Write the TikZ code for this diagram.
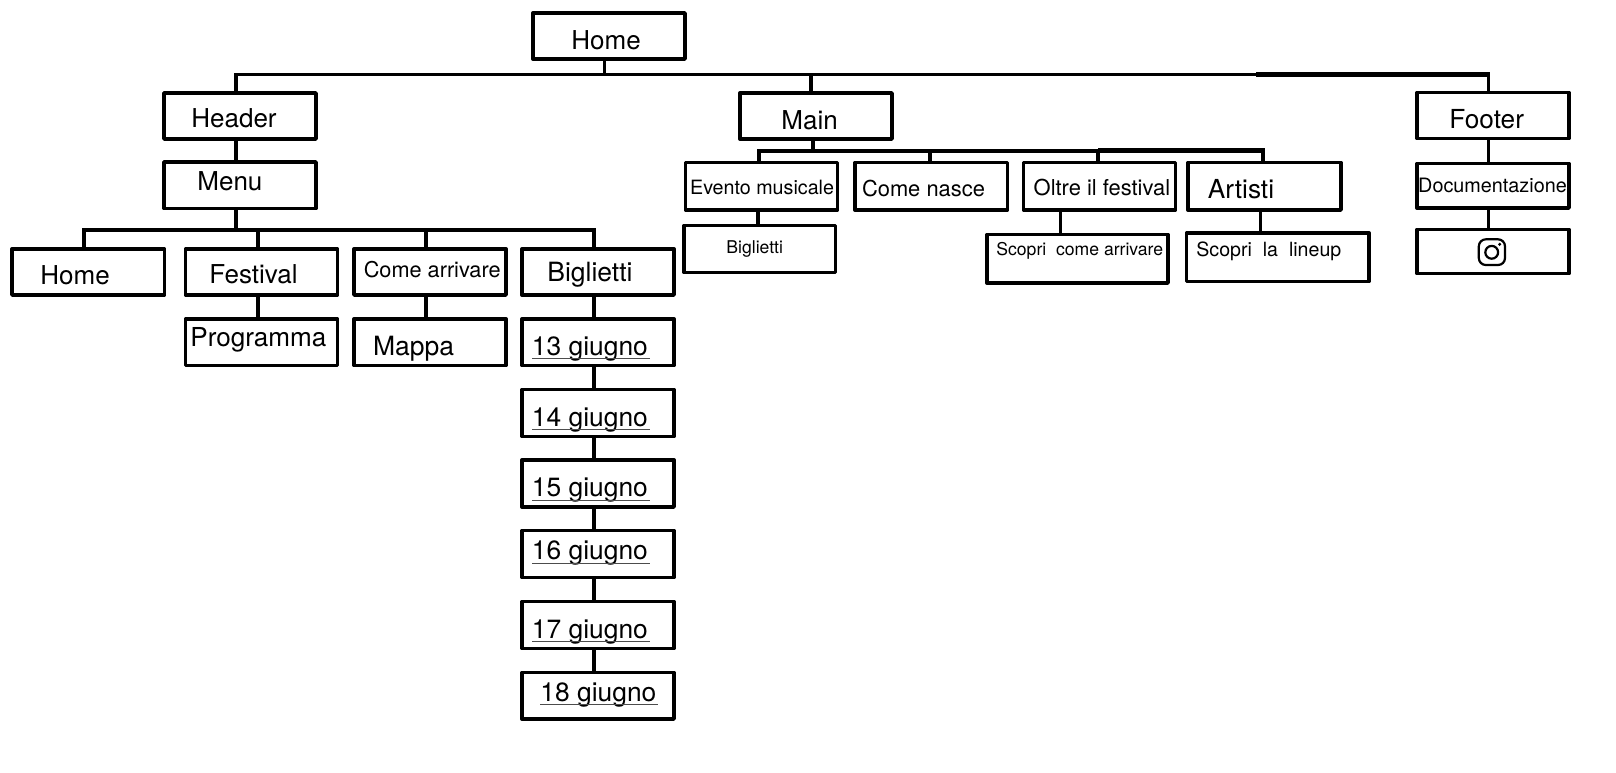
\documentclass[tikz,border=0pt]{standalone}
\usepackage{fontspec}
\setmainfont{TeX Gyre Heros}
\tikzset{
  x=1pt,y=-1pt,
  boxnode/.style={draw=black,line width=3.4pt,rectangle,inner sep=0pt,outer sep=0pt,line join=round},
  lbl/.style={anchor=base west,inner sep=0pt,outer sep=0pt,text=black,xshift=-0.6pt,yshift=-0.8pt},
  conn/.style={draw=black,line width=3.8pt,line cap=butt},
  thickconn/.style={draw=black,line width=4.6pt},
  uline/.style={draw=black!70,line width=0.9pt},
  icon/.style={draw=black,line width=2.2pt}
}
% name, x1,y1,x2,y2, font size, text x, baseline y, text
\newcommand{\bx}[9]{%
  \node[boxnode,minimum width={#4-#2-2pt},minimum height={#5-#3-2pt}] (#1) at ({(#2+#4)/2},{(#3+#5)/2}) {};
  \node[lbl,font=\fontsize{#6}{#6}\selectfont] (#1-t) at (#7,#8) {#9};
}
\begin{document}
\begin{tikzpicture}
\useasboundingbox (0,0) rectangle (1616,772);
% top level
\bx{home}{532}{12}{686}{60}{26}{572}{48.7}{Home}
\bx{hdr}{163}{92}{317}{140}{26}{192}{126.7}{Header}
\bx{main}{739}{92}{893}{140}{26}{782}{129}{Main}
\bx{ftr}{1416}{91.5}{1570}{139.5}{26.2}{1450}{127.3}{Footer}
% header subtree
\bx{menu}{163}{161}{317}{209.5}{26}{198}{190}{Menu}
\bx{mhome}{11}{248}{165.5}{296}{26}{41}{283.7}{Home}
\bx{fest}{184.5}{248}{338.5}{296}{26}{210}{282.7}{Festival}
\bx{come}{353}{248}{507}{296}{21.7}{364.4}{276.7}{Come arrivare}
\bx{bigl}{521}{248}{675}{296}{26.5}{548}{280.7}{Biglietti}
\bx{prog}{184.5}{318}{338.5}{366.5}{26.1}{191}{345.7}{Programma}
\bx{mappa}{353}{318}{507}{366.5}{26.5}{373.7}{355}{Mappa}
\bx{d13}{521}{318}{675}{366.5}{26.4}{532.5}{355}{13 giugno}
\bx{d14}{521}{388.5}{675}{437.5}{26.4}{532.5}{425.3}{14 giugno}
\bx{d15}{521}{459}{675}{508}{26.4}{532.5}{495.3}{15 giugno}
\bx{d16}{521}{529.5}{675}{578.5}{26.4}{532.5}{558.3}{16 giugno}
\bx{d17}{521}{600.5}{675}{649.5}{26.4}{532.5}{637.7}{17 giugno}
\bx{d18}{521}{671.5}{675}{720}{26.4}{541}{700.3}{18 giugno}
% main subtree
\bx{evento}{684.5}{161.5}{838.5}{211}{19.7}{690.7}{194}{Evento musicale}
\bx{nasce}{854}{161.5}{1008.5}{211}{21.9}{862.6}{195.7}{Come nasce}
\bx{oltre}{1022.5}{161.5}{1176.5}{211}{21.9}{1034.3}{194.7}{Oltre il festival}
\bx{artisti}{1187}{161.5}{1342}{211}{26.2}{1208.5}{198}{Artisti}
\bx{mbigl}{683}{224.5}{836.5}{273.5}{17.6}{727}{252.5}{Biglietti}
\bx{scoprc}{986}{233.5}{1169}{284}{17.6}{997}{254.5}{Scopri\ \ come arrivare}
\bx{scoprl}{1185.5}{232}{1370}{282.5}{19.6}{1197}{256}{Scopri\ \ la\ \ lineup}
% footer subtree
\bx{docu}{1416}{162.5}{1570}{209}{19.8}{1418.8}{191.7}{Documentazione}
\node[boxnode,minimum width={154-2pt},minimum height={46.5-2pt}] (insta) at (1493,251.5) {};
% instagram icon
\draw[icon,rounded corners=7pt] (1478.8,239.3) rectangle (1505,265);
\draw[icon] (1491.7,252.3) circle[radius=6.4pt];
\fill (1499.7,244.3) circle[radius=1.7pt];
% buses
\coordinate (busL) at (236,74.5);
\coordinate (busH) at (604.5,74.5);
\coordinate (busM) at (811,74.5);
\coordinate (busF) at (1488.5,74.5);
\draw[conn] (busL |- hdr.north) -- (busL) -- (busF) -- (busF |- ftr.north);
\draw[thickconn] (1256,74.2) -- (1490.2,74.2);
\draw[conn] (busH |- home.south) -- (busH);
\draw[conn] (busM) -- (busM |- main.north);
% header
\draw[conn] (busL |- hdr.south) -- (busL |- menu.north);
\coordinate (mb) at (236,230);
\coordinate (mb1) at (84,230);
\coordinate (mb2) at (258,230);
\coordinate (mb3) at (426,230);
\coordinate (mb4) at (594,230);
\draw[conn] (mb |- menu.south) -- (mb);
\draw[conn] (mb1 |- mhome.north) -- (mb1) -- (mb4) -- (mb4 |- bigl.north);
\draw[conn] (mb2) -- (mb2 |- fest.north);
\draw[conn] (mb3) -- (mb3 |- come.north);
\draw[conn] (mb2 |- fest.south) -- (mb2 |- prog.north);
\draw[conn] (mb3 |- come.south) -- (mb3 |- mappa.north);
\draw[conn] (mb4 |- bigl.south) -- (mb4 |- d13.north);
\draw[conn] (mb4 |- d13.south) -- (mb4 |- d14.north);
\draw[conn] (mb4 |- d14.south) -- (mb4 |- d15.north);
\draw[conn] (mb4 |- d15.south) -- (mb4 |- d16.north);
\draw[conn] (mb4 |- d16.south) -- (mb4 |- d17.north);
\draw[conn] (mb4 |- d17.south) -- (mb4 |- d18.north);
% main
\coordinate (nb) at (813,151);
\coordinate (nb1) at (759,151);
\coordinate (nb2) at (930,151);
\coordinate (nb3) at (1098,151);
\coordinate (nb4) at (1263,151);
\draw[conn] (nb |- main.south) -- (nb);
\draw[conn] (nb1 |- evento.north) -- (nb1) -- (nb4) -- (nb4 |- artisti.north);
\draw[thickconn] (1098,150.7) -- (1265,150.7);
\draw[conn] (nb2) -- (nb2 |- nasce.north);
\draw[conn] (nb3) -- (nb3 |- oltre.north);
\coordinate (c1) at (758,220);
\coordinate (c2) at (1060.5,220);
\coordinate (c3) at (1260.5,220);
\draw[conn] (c1 |- evento.south) -- (c1 |- mbigl.north);
\draw[conn] (c2 |- oltre.south) -- (c2 |- scoprc.north);
\draw[conn] (c3 |- artisti.south) -- (c3 |- scoprl.north);
% footer
\draw[conn] (busF |- ftr.south) -- (busF |- docu.north);
\draw[conn] (busF |- docu.south) -- (busF |- insta.north);
% underlines
\draw[uline] (532,358.5) -- (649.5,358.5);
\draw[uline] (532,429.5) -- (649.5,429.5);
\draw[uline] (532,500) -- (649.5,500);
\draw[uline] (532,563) -- (649.5,563);
\draw[uline] (532,641.5) -- (649.5,641.5);
\draw[uline] (540,704.5) -- (657.5,704.5);
\end{tikzpicture}
\end{document}
